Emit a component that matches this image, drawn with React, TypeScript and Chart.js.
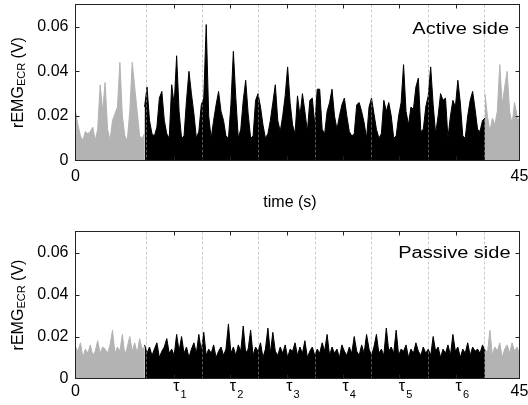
import { useEffect, useRef } from 'react';
import { Chart, registerables } from 'chart.js';

Chart.register(...registerables);

// ---- data (values in mV, sampled every 0.25 s) ----
const STEP = 0.25;
const preStart = 0;
const taskStart = 7.0;
const postStart = 41.5;

const phaseBounds = [7.1, 12.83, 18.54, 24.25, 29.95, 35.69, 41.44];
const tauTimes = [9.96, 15.69, 21.4, 27.1, 32.82, 38.57];
const tauSubs = ['1', '2', '3', '4', '5', '6'];
const yTicks = [0, 0.02, 0.04, 0.06];
const xTicks = [0, 45];

const activeRestPre = [22, 16, 11, 9, 13, 12, 13, 15, 9, 14, 34, 22, 35, 14, 9, 18, 21, 24, 44, 20, 11, 9, 22, 44, 33, 22, 11, 10, 12];
const activeTask = [
  24, 33, 18, 12, 11, 15, 28, 31, 18, 12, 10, 34, 25, 47, 22, 10, 11, 27, 40, 30, 21, 10, 13, 25, 28, 61, 20, 10, 18, 25, 31, 22,
  18, 11, 10, 25, 49, 28, 10, 14, 27, 36, 21, 10, 11, 27, 30, 24, 16, 10, 12, 18, 26, 34, 18, 13, 20, 29, 42, 26, 16, 12,
  29, 20, 30, 22, 13, 27, 28, 16, 32, 32, 14, 12, 22, 26, 32, 20, 14, 20, 25, 28, 20, 13, 11, 12, 25, 26, 22, 17, 10, 24,
  28, 21, 14, 10, 12, 27, 22, 26, 20, 10, 11, 20, 26, 43, 22, 16, 24, 23, 33, 37, 13, 14, 24, 29, 42, 25, 12, 20, 30, 27,
  28, 10, 20, 27, 24, 36, 26, 11, 10, 20, 27, 31, 23, 14, 13, 18, 19,
];
const activeRestPost = [30, 20, 13, 19, 16, 22, 43, 25, 33, 40, 22, 16, 26, 20, 17];

const passiveRestPre = [15, 13, 17, 10, 14, 12, 16, 11, 13, 18, 12, 15, 14, 12, 16, 23, 12, 15, 13, 21, 11, 15, 20, 13, 17, 12, 19, 14, 15];
const passiveTask = [
  16, 12, 15, 11, 14, 17, 10, 13, 15, 19, 12, 14, 11, 21, 13, 20, 12, 15, 10, 14, 17, 12, 21, 13, 22, 11, 14, 12, 16, 10,
  13, 15, 11, 14, 26, 12, 15, 11, 16, 13, 25, 12, 14, 23, 11, 15, 13, 17, 10, 14, 24, 12, 22, 13, 11, 15, 12, 16, 10, 14,
  13, 17, 11, 15, 12, 18, 10, 13, 15, 11, 14, 12, 17, 13, 21, 11, 15, 12, 14, 10, 16, 13, 11, 15, 12, 20, 13, 11, 16, 12,
  21, 14, 11, 15, 21, 12, 14, 11, 24, 13, 15, 12, 23, 11, 14, 13, 16, 10, 14, 12, 17, 13, 11, 15, 12, 14, 11, 20, 13, 15,
  10, 14, 12, 16, 11, 21, 13, 15, 10, 14, 12, 17, 11, 15, 13, 14, 12, 16, 13,
];
const passiveRestPost = [14, 12, 23, 11, 15, 13, 17, 10, 14, 16, 12, 17, 13, 15, 12];

const GRAY = '#b3b3b3';
const BLACK = '#000000';
const SANS = '"Liberation Sans", Arial, Helvetica, sans-serif';

function toPoints(values: number[], start: number) {
  return values.map((v, i) => ({ x: start + i * STEP, y: v / 1000 }));
}

function makeDataset(values: number[], start: number, color: string) {
  return {
    data: toPoints(values, start),
    borderColor: color,
    backgroundColor: color,
    borderWidth: 1,
    pointRadius: 0,
    fill: 'origin',
    tension: 0,
  };
}

type PanelCfg = {
  pre: number[];
  task: number[];
  post: number[];
  label: string;
  labelRight: number;
  labelBaseline: number;
  padTop: number;
  xAxisHeight: number;
  xLabelPad: number;
  showTime: boolean;
  showTau: boolean;
};

function drawYTitle(ctx: CanvasRenderingContext2D, x: number, yc: number) {
  ctx.save();
  ctx.translate(x, yc);
  ctx.rotate(-Math.PI / 2);
  const big = `16px ${SANS}`;
  const small = `11px ${SANS}`;
  ctx.font = big;
  const w1 = ctx.measureText('rEMG').width;
  const w3 = ctx.measureText(' (V)').width;
  ctx.font = small;
  const w2 = ctx.measureText('ECR').width;
  let sx = -(w1 + w2 + w3) / 2;
  ctx.fillStyle = '#000';
  ctx.textAlign = 'left';
  ctx.textBaseline = 'alphabetic';
  ctx.font = big;
  ctx.fillText('rEMG', sx, 0);
  sx += w1;
  ctx.font = small;
  ctx.fillText('ECR', sx, 2);
  sx += w2;
  ctx.font = big;
  ctx.fillText(' (V)', sx, 0);
  ctx.restore();
}

function makeDecor(cfg: PanelCfg) {
  return {
    id: 'decor',
    afterDatasetsDraw(chart: any) {
      const { ctx, chartArea: a, scales } = chart;
      const xs = scales.x;
      const ys = scales.y;
      ctx.save();
      // dashed phase boundaries
      ctx.strokeStyle = 'rgba(160,160,160,0.55)';
      ctx.lineWidth = 1;
      ctx.setLineDash([3, 2]);
      for (const b of phaseBounds) {
        const px = Math.round(xs.getPixelForValue(b)) + 0.5;
        ctx.beginPath();
        ctx.moveTo(px, a.top);
        ctx.lineTo(px, a.bottom);
        ctx.stroke();
      }
      ctx.setLineDash([]);
      // frame
      ctx.strokeStyle = '#222';
      ctx.strokeRect(a.left, a.top, a.right - a.left, a.bottom - a.top);
      // ticks
      ctx.beginPath();
      for (const t of tauTimes) {
        const px = Math.round(xs.getPixelForValue(t)) + 0.5;
        ctx.moveTo(px, a.top);
        ctx.lineTo(px, a.top + 4);
        ctx.moveTo(px, a.bottom);
        ctx.lineTo(px, a.bottom - 4);
      }
      for (const v of yTicks.slice(1)) {
        const py = Math.round(ys.getPixelForValue(v)) + 0.5;
        ctx.moveTo(a.left, py);
        ctx.lineTo(a.left + 4, py);
        ctx.moveTo(a.right, py);
        ctx.lineTo(a.right - 4, py);
      }
      ctx.stroke();

      // y title
      drawYTitle(ctx, 22.5, (a.top + a.bottom) / 2);

      // panel label (stretched horizontally like the original)
      ctx.save();
      ctx.translate(cfg.labelRight, cfg.labelBaseline);
      ctx.scale(1.25, 1);
      ctx.font = `16px ${SANS}`;
      ctx.fillStyle = '#000';
      ctx.textAlign = 'right';
      ctx.textBaseline = 'alphabetic';
      ctx.fillText(cfg.label, 0, 0);
      ctx.restore();

      if (cfg.showTime) {
        ctx.font = `16px ${SANS}`;
        ctx.fillStyle = '#000';
        ctx.textAlign = 'center';
        ctx.textBaseline = 'middle';
        ctx.fillText('time (s)', 290, 203);
      }
      if (cfg.showTau) {
        ctx.fillStyle = '#000';
        ctx.textAlign = 'left';
        ctx.textBaseline = 'alphabetic';
        tauTimes.forEach((t, i) => {
          const px = xs.getPixelForValue(t);
          ctx.font = `16px ${SANS}`;
          ctx.fillText('τ', px - 0.5, a.bottom + 12);
          const w = ctx.measureText('τ').width;
          ctx.font = `11px ${SANS}`;
          ctx.fillText(tauSubs[i], px - 0.5 + w + 1, a.bottom + 19);
        });
      }
      ctx.restore();
    },
  };
}

function buildChart(canvas: HTMLCanvasElement, cfg: PanelCfg) {
  return new Chart(canvas, {
    type: 'line',
    data: {
      datasets: [
        makeDataset(cfg.pre, preStart, GRAY),
        makeDataset(cfg.task, taskStart, BLACK),
        makeDataset(cfg.post, postStart, GRAY),
      ] as any,
    },
    options: {
      responsive: false,
      devicePixelRatio: 1,
      animation: false,
      events: [],
      layout: { padding: { left: 0, right: 8.5, top: cfg.padTop, bottom: 0 } },
      plugins: { legend: { display: false }, tooltip: { enabled: false } },
      scales: {
        x: {
          type: 'linear',
          min: 0,
          max: 45,
          grid: { display: false, drawTicks: false },
          border: { display: false },
          afterBuildTicks: (scale: any) => {
            scale.ticks = xTicks.map((v) => ({ value: v }));
          },
          afterFit: (scale: any) => {
            scale.height = cfg.xAxisHeight;
            scale.paddingLeft = 0;
            scale.paddingRight = 0;
          },
          ticks: {
            autoSkip: false,
            maxRotation: 0,
            padding: cfg.xLabelPad,
            color: '#000',
            font: { family: SANS, size: 16 },
            callback: (v: any) => String(v),
          },
        },
        y: {
          type: 'linear',
          min: 0,
          max: 0.07,
          grid: { display: false, drawTicks: false },
          border: { display: false },
          afterBuildTicks: (scale: any) => {
            scale.ticks = yTicks.map((v) => ({ value: v }));
          },
          afterFit: (scale: any) => {
            scale.width = 75.5;
            scale.paddingTop = 0;
            scale.paddingBottom = 0;
          },
          ticks: {
            padding: 7,
            color: '#000',
            font: { family: SANS, size: 16 },
            callback: (v: any) => (Number(v) === 0 ? '0' : Number(v).toFixed(2)),
          },
        },
      },
    } as any,
    plugins: [makeDecor(cfg)],
  });
}

export default function App() {
  const topRef = useRef<HTMLCanvasElement>(null);
  const botRef = useRef<HTMLCanvasElement>(null);

  useEffect(() => {
    const top = buildChart(topRef.current!, {
      pre: activeRestPre,
      task: activeTask,
      post: activeRestPost,
      label: 'Active side',
      labelRight: 509,
      labelBaseline: 34,
      padTop: 4.5,
      xAxisHeight: 54.5,
      xLabelPad: 6,
      showTime: true,
      showTau: false,
    });
    const bot = buildChart(botRef.current!, {
      pre: passiveRestPre,
      task: passiveTask,
      post: passiveRestPost,
      label: 'Passive side',
      labelRight: 510.5,
      labelBaseline: 43.3,
      padTop: 16.5,
      xAxisHeight: 26.5,
      xLabelPad: 3,
      showTime: false,
      showTau: true,
    });
    return () => {
      top.destroy();
      bot.destroy();
    };
  }, []);

  return (
    <div style={{ position: 'fixed', left: 0, top: 0, width: 528, height: 405, background: '#fff' }}>
      <canvas ref={topRef} width={528} height={215} style={{ position: 'absolute', left: 0, top: 0, width: 528, height: 215 }} />
      <canvas ref={botRef} width={528} height={190} style={{ position: 'absolute', left: 0, top: 215, width: 528, height: 190 }} />
    </div>
  );
}
